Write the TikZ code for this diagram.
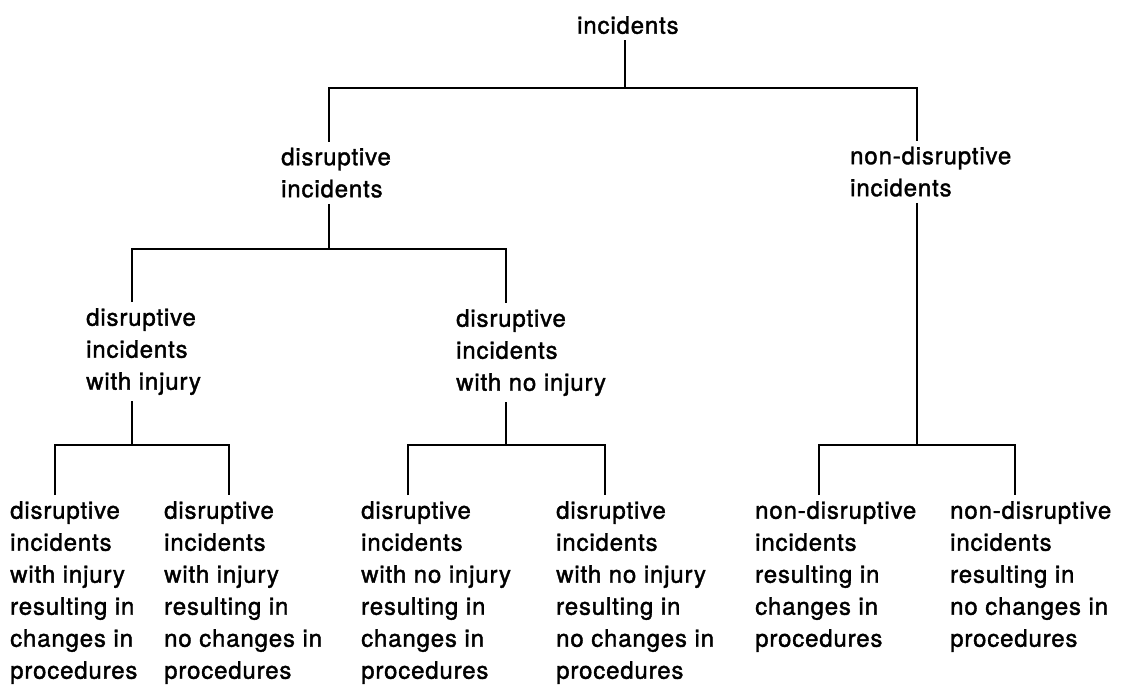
\documentclass[tikz,border=0pt]{standalone}
\usepackage{fontspec}
\newfontfamily\helv{TeX Gyre Heros}[LetterSpace=3.5,FakeBold=1.5]
\usepackage{tikz}
\tikzstyle{cat}=[anchor=north west,
                 align=left,
                 inner xsep=0pt,
                 inner ysep=2.5pt,
                 font=\helv\fontsize{12pt}{16pt}\selectfont]

\begin{document}
\begin{tikzpicture}[x=0.5pt,y=-0.5pt,line width=1.2pt]
\useasboundingbox (0,0) rectangle (1122,685);

% top of the tree
\node[cat] (inc) at (576,10) {incidents};

% first split
\node[cat] (dis) at (280,141.5) {disruptive\\incidents};
\node[cat] (non) at (849,140.5) {non-disruptive\\incidents};

% disruptive: injury or not
\node[cat] (dinj) at (85,302) {disruptive\\incidents\\with injury};
\node[cat] (dno)  at (455,303) {disruptive\\incidents\\with no injury};

% leaves
\node[cat] (l1) at (9,495)   {disruptive\\incidents\\with injury\\resulting in\\changes in\\procedures};
\node[cat] (l2) at (163,495) {disruptive\\incidents\\with injury\\resulting in\\no changes in\\procedures};
\node[cat] (l3) at (360,495) {disruptive\\incidents\\with no injury\\resulting in\\changes in\\procedures};
\node[cat] (l4) at (555,495) {disruptive\\incidents\\with no injury\\resulting in\\no changes in\\procedures};
\node[cat] (l5) at (754,495) {non-disruptive\\incidents\\resulting in\\changes in\\procedures};
\node[cat] (l6) at (949,495) {non-disruptive\\incidents\\resulting in\\no changes in\\procedures};

% junctions on the bars
\coordinate (b0) at (625,88);
\coordinate (b1) at (329,249);
\coordinate (b2) at (132,445);
\coordinate (b3) at (506,445);
\coordinate (b4) at (917,445);

% branches
\draw ([xshift=24.5pt]inc.south west) -- (b0);
\draw ([xshift=24.5pt]dis.north west) |- (b0) -| ([xshift=34pt]non.north west);

\draw ([xshift=24.5pt]dis.south west) -- (b1);
\draw ([xshift=23.5pt]dinj.north west) |- (b1) -| ([xshift=25.5pt]dno.north west);

\draw ([xshift=23.5pt]dinj.south west) -- (b2);
\draw ([xshift=25.5pt]dno.south west) -- (b3);
\draw ([xshift=34pt]non.south west) -- (b4);

\draw ([xshift=23pt]l1.north west) |- (b2) -| ([xshift=33pt]l2.north west);
\draw ([xshift=24pt]l3.north west) |- (b3) -| ([xshift=25pt]l4.north west);
\draw ([xshift=32.5pt]l5.north west) |- (b4) -| ([xshift=33pt]l6.north west);
\end{tikzpicture}
\end{document}
